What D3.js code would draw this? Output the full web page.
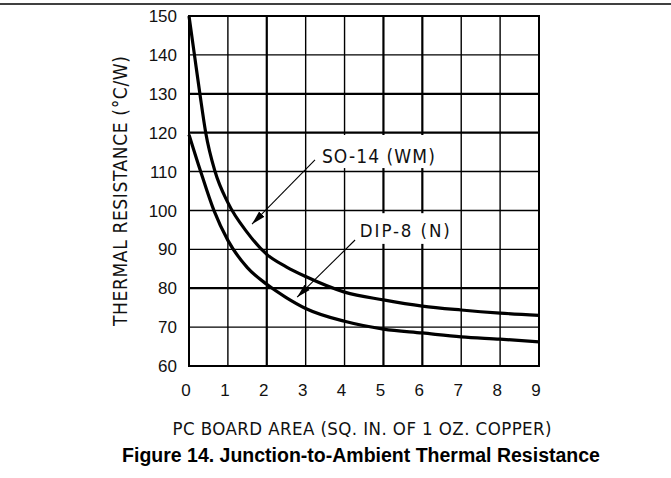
<!DOCTYPE html>
<html>
<head>
<meta charset="utf-8">
<script src="https://cdn.jsdelivr.net/npm/d3@7"></script>
<style>
  body { margin: 0; background: #fff; }
  svg { display: block; }
  .plot { font-family: 'Liberation Sans Narrow', 'DejaVu Sans Condensed', sans-serif; fill: #111; }
  .tick { font-family: 'Liberation Sans', Arial, sans-serif; font-size: 17px; fill: #111; }
</style>
</head>
<body>
<svg id="chart"></svg>
<script>
// PC board area, sq. in. of 1 oz. copper
const xTicks = [0, 1, 2, 3, 4, 5, 6, 7, 8, 9]
const yTicks = [60, 70, 80, 90, 100, 110, 120, 130, 140, 150]

// SO-14 (WM) curve
const so14Area = [0, 0.14, 0.28, 0.43, 0.67, 1, 1.5, 2, 2.5, 3, 4, 5, 6, 7, 8, 9]
const so14Rth = [150, 140, 130, 120, 110, 102, 94.3, 88.7, 85.5, 83, 79, 77, 75.4, 74.4, 73.6, 73]

// DIP-8 (N)
const dip8Area = [0, 0.3, 0.64, 1, 1.5, 2, 2.5, 3, 4, 5, 6, 7, 8, 9]
const dip8Rth = [119.5, 110, 100, 92.3, 85.3, 81, 77.6, 74.8, 71.5, 69.5, 68.5, 67.5, 66.9, 66.2]

const dimensions = { width: 671, height: 478 }
const margin = { left: 189, right: 132, top: 16, bottom: 112 }

const svg = d3.select('#chart')
  .attr('width', dimensions.width)
  .attr('height', dimensions.height)
  .style('background-color', '#fff')

const x = d3.scaleLinear()
  .domain([0, 9])
  .range([margin.left, dimensions.width - margin.right])

const y = d3.scaleLinear()
  .domain([60, 150])
  .range([dimensions.height - margin.bottom, margin.top])

// rule across the top of the page
svg.append('line')
  .attr('x1', 0).attr('x2', dimensions.width)
  .attr('y1', 4).attr('y2', 4)
  .attr('stroke', '#000')
  .attr('stroke-width', 1.5)

// grid (the scan has some heavier lines)
const heavyX = [2, 5, 6]
const heavyY = [80, 120, 130]

svg.append('g')
  .selectAll('line')
  .data(xTicks)
  .enter().append('line')
  .attr('x1', function (d) { return x(d) })
  .attr('x2', function (d) { return x(d) })
  .attr('y1', y(60))
  .attr('y2', y(150))
  .attr('stroke', '#000')
  .attr('stroke-width', function (d) { return heavyX.includes(d) ? 2.2 : 1.4 })

svg.append('g')
  .selectAll('line')
  .data(yTicks)
  .enter().append('line')
  .attr('x1', x(0))
  .attr('x2', x(9))
  .attr('y1', function (d) { return y(d) })
  .attr('y2', function (d) { return y(d) })
  .attr('stroke', '#000')
  .attr('stroke-width', function (d) { return heavyY.includes(d) ? 2.2 : 1.4 })

svg.append('rect')
  .attr('x', x(0))
  .attr('y', y(150))
  .attr('width', x(9) - x(0))
  .attr('height', y(60) - y(150))
  .attr('fill', 'none')
  .attr('stroke', '#000')
  .attr('stroke-width', 2)

// tick labels
svg.append('g')
  .selectAll('text')
  .data(yTicks)
  .enter().append('text')
  .attr('class', 'tick')
  .attr('x', x(0) - 12)
  .attr('y', function (d) { return y(d) })
  .attr('dy', '0.36em')
  .attr('text-anchor', 'end')
  .text(function (d) { return d })

svg.append('g')
  .selectAll('text')
  .data(xTicks)
  .enter().append('text')
  .attr('class', 'tick')
  .attr('x', function (d) { return x(d) - 3 })
  .attr('y', y(60) + 30)
  .attr('text-anchor', 'middle')
  .text(function (d) { return d })

// axis titles
svg.append('text')
  .attr('class', 'plot')
  .attr('x', (x(0) + x(9)) / 2 - 2)
  .attr('y', 435)
  .attr('text-anchor', 'middle')
  .attr('font-size', 18.5)
  .attr('textLength', 379)
  .attr('lengthAdjust', 'spacing')
  .text('PC BOARD AREA (SQ. IN. OF 1 OZ. COPPER)')

svg.append('text')
  .attr('class', 'plot')
  .attr('transform', 'translate(127,' + (y(60) + y(150)) / 2 + ') rotate(-90)')
  .attr('text-anchor', 'middle')
  .attr('font-size', 19)
  .attr('textLength', 270)
  .attr('lengthAdjust', 'spacing')
  .text('THERMAL RESISTANCE (°C/W)')

// curves
const line = d3.line()
  .x(function (d) { return x(d[0]) })
  .y(function (d) { return y(d[1]) })
  .curve(d3.curveMonotoneX)

svg.append('path')
  .datum(d3.zip(so14Area, so14Rth))
  .attr('d', line)
  .attr('fill', 'none')
  .attr('stroke', '#000')
  .attr('stroke-width', 3.2)

svg.append('path')
  .datum(d3.zip(dip8Area, dip8Rth))
  .attr('d', line)
  .attr('fill', 'none')
  .attr('stroke', '#000')
  .attr('stroke-width', 3.2)

// callouts: label box, label, leader with arrow (in data units)
const callouts = [
  { text: 'SO-14 (WM)', box: [3.16, 6.63, 119.4, 110.9], at: [4.87, 112.3], width: 113, size: 19, from: [3.24, 113.0], to: [1.62, 96.5] },
  { text: 'DIP-8 (N)', box: [4.14, 6.86, 99.3, 91.4], at: [5.55, 93.2], width: 90, size: 18.5, from: [4.27, 92.4], to: [2.78, 77.7] }
]

svg.append('defs').append('marker')
  .attr('id', 'arrow')
  .attr('viewBox', '0 0 10 10')
  .attr('refX', 10)
  .attr('refY', 5)
  .attr('markerWidth', 14)
  .attr('markerHeight', 14)
  .attr('markerUnits', 'userSpaceOnUse')
  .attr('orient', 'auto')
  .append('path')
  .attr('d', 'M0,2.3L10,5L0,7.7Z')
  .attr('fill', '#000')

const callout = svg.append('g')
  .selectAll('g')
  .data(callouts)
  .enter().append('g')

callout.append('rect')
  .attr('x', function (d) { return x(d.box[0]) })
  .attr('y', function (d) { return y(d.box[2]) })
  .attr('width', function (d) { return x(d.box[1]) - x(d.box[0]) })
  .attr('height', function (d) { return y(d.box[3]) - y(d.box[2]) })
  .attr('fill', '#fff')

callout.append('text')
  .attr('class', 'plot')
  .attr('x', function (d) { return x(d.at[0]) })
  .attr('y', function (d) { return y(d.at[1]) })
  .attr('text-anchor', 'middle')
  .attr('font-size', function (d) { return d.size })
  .attr('textLength', function (d) { return d.width })
  .attr('lengthAdjust', 'spacing')
  .text(function (d) { return d.text })

callout.append('line')
  .attr('x1', function (d) { return x(d.from[0]) })
  .attr('y1', function (d) { return y(d.from[1]) })
  .attr('x2', function (d) { return x(d.to[0]) })
  .attr('y2', function (d) { return y(d.to[1]) })
  .attr('stroke', '#000')
  .attr('stroke-width', 1.1)
  .attr('marker-end', 'url(#arrow)')

// caption
svg.append('text')
  .attr('x', 361)
  .attr('y', 462)
  .attr('text-anchor', 'middle')
  .attr('font-family', 'Liberation Sans, Arial, sans-serif')
  .attr('font-weight', 'bold')
  .attr('font-size', 19.5)
  .text('Figure 14. Junction-to-Ambient Thermal Resistance')
</script>
</body>
</html>
